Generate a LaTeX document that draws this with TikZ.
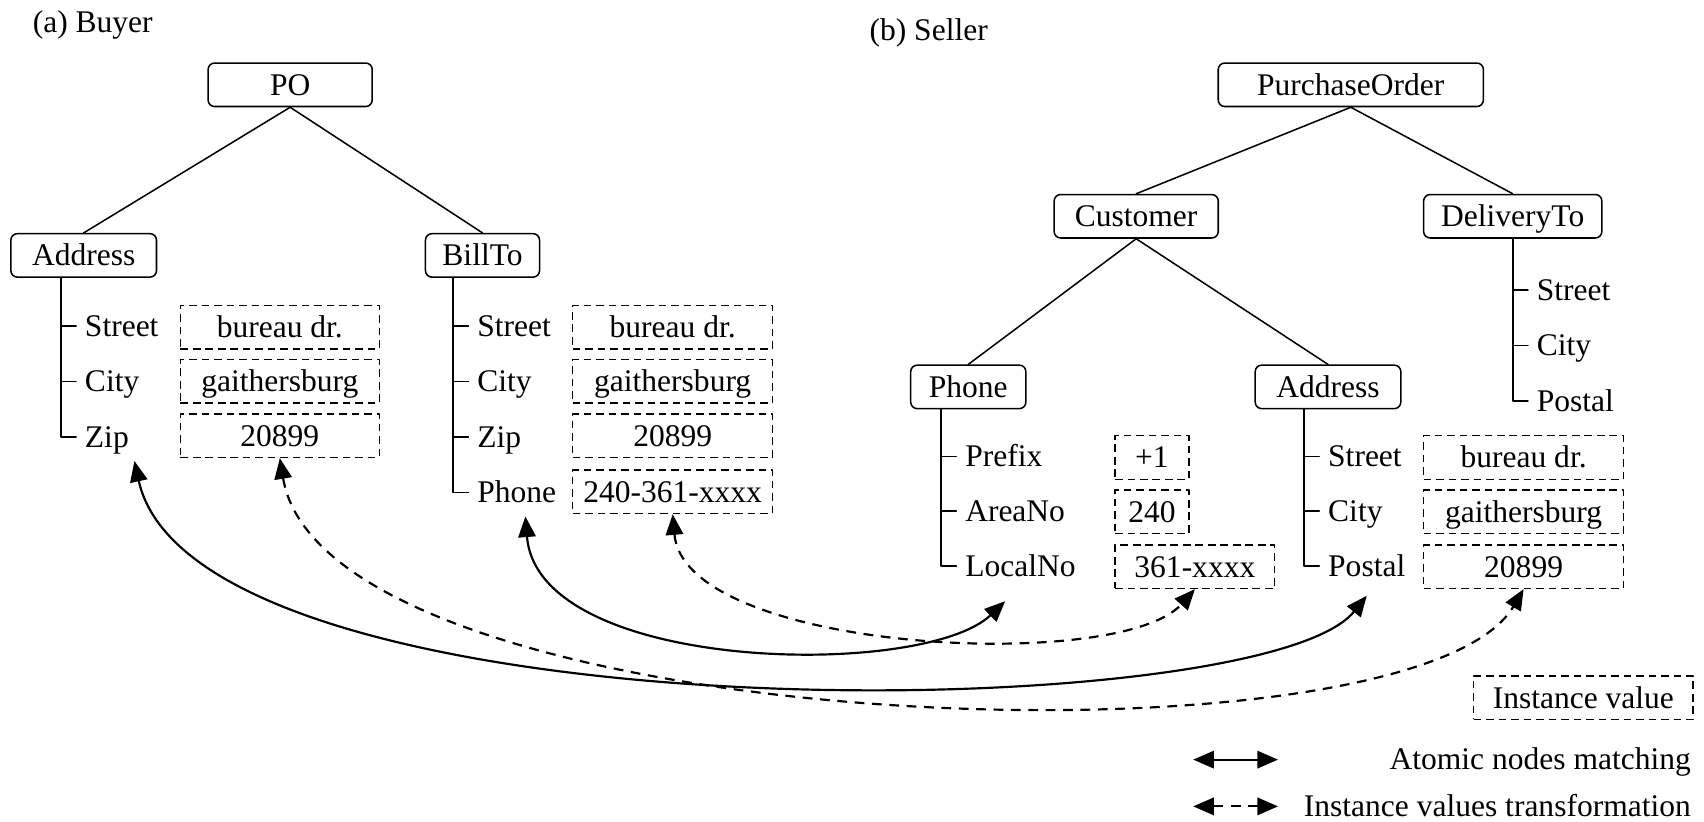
\documentclass[tikz,border=0pt]{standalone}
\usepackage{fontspec}
\setmainfont{LiberationSerif}[Extension=.ttf,UprightFont=*-Regular,BoldFont=*-Bold,ItalicFont=*-Italic,BoldItalicFont=*-BoldItalic]
\usetikzlibrary{arrows.meta}

\begin{document}
\begin{tikzpicture}[x=1pt,y=-1pt,line cap=round,line join=round,
  font=\fontsize{29}{34}\selectfont,
  every node/.style={text height=19pt,text depth=0pt},
  elem/.style={draw,line width=1.4pt,rounded corners=6pt,minimum height=40pt,inner xsep=0pt},
  leaf/.style={anchor=west,inner xsep=8pt,inner ysep=12.5pt},
  inst/.style={draw,line width=1.3pt,dash pattern=on 7pt off 4.5pt,line cap=butt,minimum height=40pt,inner xsep=0pt},
  edge/.style={line width=1.4pt},
  matcharrow/.style={line width=2pt,{Triangle[length=19pt,width=16pt]}-{Triangle[length=19pt,width=16pt]}},
  valuearrow/.style={line width=2pt,dash pattern=on 9pt off 7pt,line cap=butt,{Triangle[length=19pt,width=16pt]}-{Triangle[length=19pt,width=16pt]}}]
  \useasboundingbox (0,0) rectangle (1568,756);

  % Captions of the two schemas.
  \node[anchor=west,inner sep=0pt] (capA) at (30,20) {(a) Buyer};
  \node[anchor=west,inner sep=0pt] (capB) at (800,28) {(b) Seller};

  % Buyer tree.
  \node[elem,minimum width=151pt] (po) at (267,78) {PO};
  \node[elem,minimum width=134pt] (addrA) at (77,235) {Address};
  \node[elem,minimum width=105pt] (billA) at (444,235) {BillTo};
  \draw[edge] (po.south) -- (addrA.north);
  \draw[edge] (po.south) -- (billA.north);

  \node[leaf] (streetA) at (70,300) {Street};
  \node[leaf] (cityA) at (70,351) {City};
  \node[leaf] (zipA) at (70,402) {Zip};
  \coordinate (stemA) at ([xshift=-14pt]zipA.west);
  \draw[edge] (addrA.south -| stemA) |- (zipA.west);
  \foreach \n in {streetA,cityA}{
    \draw[edge] (\n.west -| stemA) -- (\n.west);
  }

  \node[leaf] (streetBill) at (431,300) {Street};
  \node[leaf] (cityBill) at (431,351) {City};
  \node[leaf] (zipBill) at (431,402) {Zip};
  \node[leaf] (phoneA) at (431,453) {Phone};
  \coordinate (stemBill) at ([xshift=-14pt]phoneA.west);
  \draw[edge] (billA.south -| stemBill) |- (phoneA.west);
  \foreach \n in {streetBill,cityBill,zipBill}{
    \draw[edge] (\n.west -| stemBill) -- (\n.west);
  }

  % Buyer instance values.
  \node[inst,minimum width=183pt] (streetvA) at (257.5,301) {bureau dr.};
  \node[inst,minimum width=183pt] (cityvA) at (257.5,351) {gaithersburg};
  \node[inst,minimum width=183pt] (zipvA) at (257.5,401) {20899};
  \node[inst,minimum width=184pt] (streetvBill) at (619,301) {bureau dr.};
  \node[inst,minimum width=184pt] (cityvBill) at (619,351) {gaithersburg};
  \node[inst,minimum width=184pt] (zipvBill) at (619,401) {20899};
  \node[inst,minimum width=184pt] (phonevA) at (619,452.5) {240-361-xxxx};

  % Seller tree.
  \node[elem,minimum width=244pt] (pord) at (1243,78) {PurchaseOrder};
  \node[elem,minimum width=151pt] (cust) at (1045.5,199) {Customer};
  \node[elem,minimum width=164pt] (deliv) at (1392,199) {DeliveryTo};
  \node[elem,minimum width=106pt] (phoneB) at (891,356) {Phone};
  \node[elem,minimum width=134pt] (addrB) at (1222,356) {Address};
  \draw[edge] (pord.south) -- (cust.north);
  \draw[edge] (pord.south) -- (deliv.north);
  \draw[edge] (cust.south) -- (phoneB.north);
  \draw[edge] (cust.south) -- (addrB.north);

  \node[leaf] (streetDel) at (1406,267) {Street};
  \node[leaf] (cityDel) at (1406,318) {City};
  \node[leaf] (postalDel) at (1406,369) {Postal};
  \coordinate (stemDel) at ([xshift=-14pt]postalDel.west);
  \draw[edge] (deliv.south -| stemDel) |- (postalDel.west);
  \foreach \n in {streetDel,cityDel}{
    \draw[edge] (\n.west -| stemDel) -- (\n.west);
  }

  \node[leaf] (prefixB) at (880,420) {Prefix};
  \node[leaf] (areaB) at (880,470) {AreaNo};
  \node[leaf] (localB) at (880,521) {LocalNo};
  \coordinate (stemPh) at ([xshift=-14pt]localB.west);
  \draw[edge] (phoneB.south -| stemPh) |- (localB.west);
  \foreach \n in {prefixB,areaB}{
    \draw[edge] (\n.west -| stemPh) -- (\n.west);
  }

  \node[leaf] (streetB) at (1214,420) {Street};
  \node[leaf] (cityB) at (1214,470) {City};
  \node[leaf] (postalB) at (1214,521) {Postal};
  \coordinate (stemB) at ([xshift=-14pt]postalB.west);
  \draw[edge] (addrB.south -| stemB) |- (postalB.west);
  \foreach \n in {streetB,cityB}{
    \draw[edge] (\n.west -| stemB) -- (\n.west);
  }

  % Seller instance values.
  \node[inst,minimum width=68pt] (prefixvB) at (1060,421) {+1};
  \node[inst,minimum width=68pt] (areavB) at (1060,471) {240};
  \node[inst,minimum width=147pt] (localvB) at (1099.5,521.5) {361-xxxx};
  \node[inst,minimum width=184pt] (streetvB) at (1402,421) {bureau dr.};
  \node[inst,minimum width=184pt] (cityvB) at (1402,471) {gaithersburg};
  \node[inst,minimum width=184pt] (zipvB) at (1402,521.5) {20899};

  % Matchings and value transformations.
  \draw[matcharrow] ([xshift=-3pt]zipA.south east) .. controls (180,680) and (1160,670) .. ([yshift=-5pt]postalB.south);
  \draw[valuearrow] (zipvA.south) .. controls (300,680) and (1300,715) .. (zipvB.south);
  \draw[matcharrow] ([xshift=8pt]phoneA.south) .. controls (495,620) and (850,625) .. ([xshift=-14pt,yshift=-10pt]localB.south);
  \draw[valuearrow] (phonevA.south) .. controls (630,600) and (1030,620) .. (localvB.south);

  % Legend.
  \node[inst,minimum width=202pt] (legInst) at (1457,642) {Instance value};
  \node[anchor=east,inner sep=0pt] (legMatch) at (1556,699) {Atomic nodes matching};
  \node[anchor=east,inner sep=0pt] (legValue) at (1556,742) {Instance values transformation};
  \coordinate (legMatchS) at (1098,699);
  \coordinate (legMatchE) at (1176,699);
  \coordinate (legValueS) at (1098,742);
  \coordinate (legValueE) at (1176,742);
  \draw[matcharrow] (legMatchS) -- (legMatchE);
  \draw[valuearrow] (legValueS) -- (legValueE);
\end{tikzpicture}
\end{document}
